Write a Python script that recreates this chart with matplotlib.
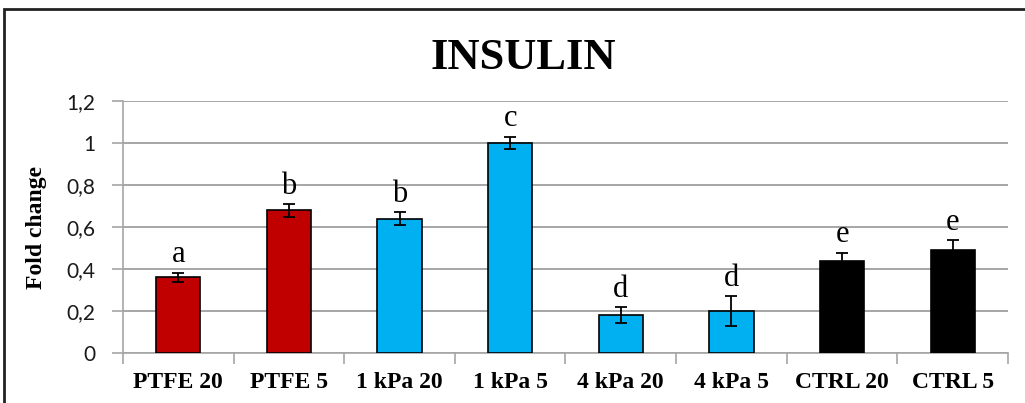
import matplotlib
matplotlib.use("Agg")
import matplotlib.pyplot as plt
from matplotlib.patches import Rectangle
from matplotlib.ticker import FuncFormatter, FixedLocator, NullFormatter

# Data
categories = ["PTFE 20", "PTFE 5", "1 kPa 20", "1 kPa 5", "4 kPa 20", "4 kPa 5", "CTRL 20", "CTRL 5"]
fold_change = [0.36, 0.68, 0.64, 1.00, 0.18, 0.20, 0.44, 0.49]
errors = [0.022, 0.03, 0.031, 0.03, 0.037, 0.07, 0.038, 0.048]
letters = ["a", "b", "b", "c", "d", "d", "e", "e"]
bar_colors = ["#C00000", "#C00000", "#00B0F0", "#00B0F0", "#00B0F0", "#00B0F0", "#000000", "#000000"]
y_ticks = [0, 0.2, 0.4, 0.6, 0.8, 1.0, 1.2]

serif = "Liberation Serif"

fig = plt.figure(figsize=(10.25, 4.03), dpi=100)
ax = fig.add_axes([0.12, 0.124, 0.8634, 0.625])

x = list(range(len(categories)))
ax.bar(x, fold_change, width=0.4, color=bar_colors, edgecolor="black",
       linewidth=1.2, zorder=3)
ax.errorbar(x, fold_change, yerr=errors, fmt="none", ecolor="black",
            elinewidth=1.3, capsize=4.5, capthick=1.3, zorder=4)

# significance letters above each error bar
for xi, v, e, t in zip(x, fold_change, errors, letters):
    ax.text(xi, v + e + 0.05, t, ha="center", va="baseline",
            fontsize=22, family=serif, color="black", zorder=5)

ax.set_xlim(-0.5, len(categories) - 0.5)
ax.set_ylim(0, 1.2)
ax.set_yticks(y_ticks)
ax.yaxis.set_major_formatter(FuncFormatter(lambda v, p: f"{v:g}".replace(".", ",")))
ax.grid(axis="y", color="#a6a6a6", linewidth=1.4, zorder=0)

ax.set_xticks(x)
ax.set_xticklabels(categories, fontsize=17, fontweight="bold", family=serif)
ax.xaxis.set_minor_locator(FixedLocator([i - 0.5 for i in range(len(categories) + 1)]))
ax.xaxis.set_minor_formatter(NullFormatter())
ax.tick_params(axis="x", which="major", length=0, pad=14)
ax.tick_params(axis="x", which="minor", length=8, width=1.2, color="#a6a6a6")
ax.tick_params(axis="y", length=8, width=1.2, color="#a6a6a6", pad=12,
               labelsize=15, labelcolor="#1a1a1a")
for lab in ax.get_yticklabels():
    lab.set_family("Lato")

for s in ("top", "right"):
    ax.spines[s].set_visible(False)
for s in ("left", "bottom"):
    ax.spines[s].set_color("#a6a6a6")
    ax.spines[s].set_linewidth(1.2)

ax.set_ylabel("Fold change", fontsize=17, fontweight="bold", family=serif, labelpad=14)
fig.text(0.511, 0.855, "INSULIN", ha="center", va="center", fontsize=32,
         fontweight="bold", family=serif)

# outer chart frame
fig.patches.append(Rectangle((4 / 1025, -0.1), 1.2, 1 - 9 / 403 + 0.1,
                             transform=fig.transFigure, fill=False,
                             edgecolor="#222222", linewidth=2))

fig.savefig("out.png", dpi=100)
